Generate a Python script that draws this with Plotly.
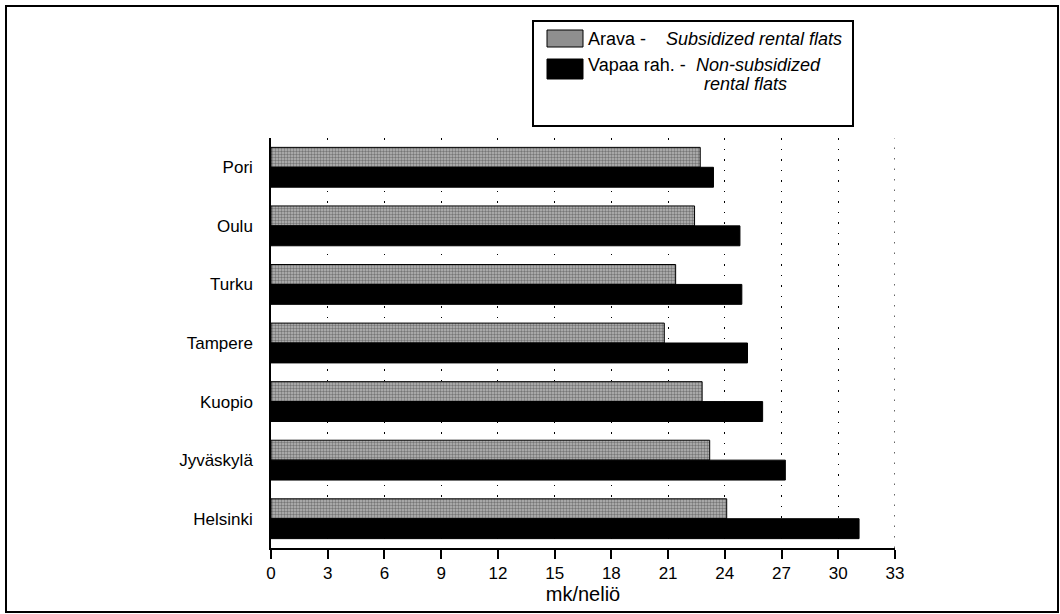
import plotly.graph_objects as go

cities = ["Pori", "Oulu", "Turku", "Tampere", "Kuopio", "Jyväskylä", "Helsinki"]
arava = [22.7, 22.4, 21.4, 20.8, 22.8, 23.2, 24.1]
vapaa = [23.4, 24.8, 24.9, 25.2, 26.0, 27.2, 31.1]
tick_vals = list(range(0, 34, 3))
legend_arava = ["Arava -", "Subsidized rental flats"]
legend_vapaa = ["Vapaa rah. -", "Non-subsidized", "rental flats"]
x_title = "mk/neliö"

ARAVA_FILL = "#8f8f8f"

fig = go.Figure()
fig.add_trace(go.Bar(
    y=cities, x=arava, orientation="h", name="Arava",
    marker=dict(color=ARAVA_FILL, line=dict(color="black", width=1),
                pattern=dict(shape=".", size=3, solidity=0.5,
                             fgcolor="#333333", bgcolor="#b8b8b8")),
))
fig.add_trace(go.Bar(
    y=cities, x=vapaa, orientation="h", name="Vapaa rah.",
    marker=dict(color="black", line=dict(color="black", width=1)),
))

W, H = 1060, 614
L, R, T, B = 271, 895, 138, 548

def px(x):
    return (x - L) / (R - L)

def py(y):
    return (B - y) / (B - T)

FONT = "Liberation Sans, Arial, Helvetica, sans-serif"
LF = 18
DOT = "1.5px,9px"

shapes = [
    dict(type="rect", xref="paper", yref="paper",
         x0=px(6), x1=px(1058), y0=py(612), y1=py(6),
         line=dict(color="black", width=2), layer="below"),
    dict(type="rect", xref="paper", yref="paper",
         x0=px(533), x1=px(853), y0=py(126), y1=py(21),
         line=dict(color="black", width=2), fillcolor="white", layer="below"),
    dict(type="rect", xref="paper", yref="paper",
         x0=px(547), x1=px(583), y0=py(47), y1=py(30),
         line=dict(color="black", width=1), fillcolor=ARAVA_FILL),
    dict(type="rect", xref="paper", yref="paper",
         x0=px(547), x1=px(583), y0=py(79), y1=py(59),
         line=dict(color="black", width=1), fillcolor="black"),
    # last grid line (at the right end of the axis)
    dict(type="line", xref="x", yref="paper", x0=tick_vals[-1], x1=tick_vals[-1],
         y0=0, y1=1, line=dict(color="black", width=1.2, dash=DOT), layer="below"),
]

def ann(x, y, text):
    return dict(xref="paper", yref="paper", x=px(x), y=py(y), xanchor="left",
                yanchor="middle", text=text, showarrow=False, font=dict(size=LF))

annotations = [
    ann(586, 39, legend_arava[0]),
    ann(664, 39, "<i>" + legend_arava[1] + "</i>"),
    ann(586, 65, legend_vapaa[0]),
    ann(694, 65, "<i>" + legend_vapaa[1] + "</i>"),
    ann(702, 84, "<i>" + legend_vapaa[2] + "</i>"),
]

fig.update_layout(
    width=W, height=H,
    margin=dict(l=L, r=W - R, t=T, b=H - B, pad=0),
    paper_bgcolor="white", plot_bgcolor="white",
    barmode="group", bargap=0.32, bargroupgap=0,
    font=dict(family=FONT, size=17, color="black"),
    showlegend=False,
    xaxis=dict(range=[0, 33], tickvals=tick_vals, ticks="outside", ticklen=9,
               tickcolor="black", tickwidth=1.5, showline=True, linecolor="black", linewidth=1.5,
               showgrid=True, gridcolor="black", gridwidth=1.2, griddash=DOT,
               zeroline=False, title=dict(text=x_title, standoff=4),
               tickfont=dict(size=17)),
    yaxis=dict(autorange="reversed", showline=True, linecolor="black", linewidth=1.5,
               showgrid=False, ticks="", ticklabelstandoff=13, zeroline=False,
               tickfont=dict(size=17)),
    shapes=shapes,
    annotations=annotations,
)

fig.write_html("out.html", config={"displayModeBar": False},
               post_script="document.body.style.margin='0px';document.body.style.overflow='hidden';")
